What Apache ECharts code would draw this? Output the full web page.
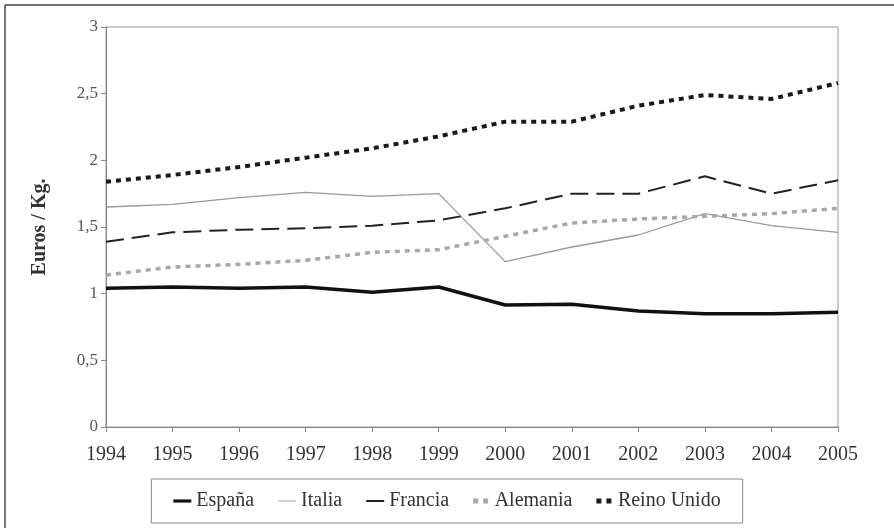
<!DOCTYPE html>
<html>
<head>
<meta charset="utf-8">
<script src="https://cdn.jsdelivr.net/npm/echarts@6/dist/echarts.min.js"></script>
<style>
  html, body { margin: 0; padding: 0; background: #fff; }
  #chart { width: 894px; height: 531px; }
</style>
</head>
<body>
<div id="chart"></div>
<script>
const years = ["1994", "1995", "1996", "1997", "1998", "1999", "2000", "2001", "2002", "2003", "2004", "2005"];
const espana = [1.04, 1.05, 1.04, 1.05, 1.01, 1.05, 0.915, 0.92, 0.87, 0.85, 0.85, 0.86];
const italia = [1.65, 1.67, 1.72, 1.76, 1.73, 1.75, 1.24, 1.35, 1.44, 1.6, 1.51, 1.46];
const francia = [1.39, 1.46, 1.48, 1.49, 1.51, 1.55, 1.64, 1.75, 1.75, 1.88, 1.75, 1.85];
const alemania = [1.14, 1.2, 1.22, 1.25, 1.31, 1.33, 1.43, 1.53, 1.56, 1.58, 1.6, 1.64];
const reinoUnido = [1.84, 1.89, 1.95, 2.02, 2.09, 2.18, 2.29, 2.29, 2.41, 2.49, 2.46, 2.58];

const serif = "'Liberation Serif', 'DejaVu Serif', serif";

const chart = echarts.init(document.getElementById("chart"));

function line(name, data, color, width, type) {
  return {
    name: name,
    type: "line",
    data: data,
    symbol: "none",
    animation: false,
    lineStyle: { color: color, width: width, type: type },
    itemStyle: { color: color }
  };
}

// legend icons: bars for solid/dashed, two squares for the dotted ones
const barThick = "path://M0,0h20v3.5h-20z";
const barThin = "path://M0,0h20v1h-20z";
const barMid = "path://M0,0h20v2.2h-20z";
const twoDots = "path://M0,0h5v5h-5zM10,0h5v5h-5z";

chart.setOption({
  backgroundColor: "#fff",
  grid: {
    left: 106,
    right: 56,
    top: 27,
    bottom: 104,
    show: true,
    borderColor: "#999",
    borderWidth: 1
  },
  legend: {
    bottom: 8,
    left: "center",
    padding: [12, 22],
    borderColor: "#888",
    borderWidth: 1,
    itemWidth: 18,
    itemHeight: 5,
    itemGap: 24,
    itemStyle: { borderWidth: 0 },
    textStyle: { fontFamily: serif, fontSize: 20, color: "#333" },
    data: [
      { name: "España", icon: barThick },
      { name: "Italia", icon: barThin },
      { name: "Francia", icon: barMid },
      { name: "Alemania", icon: twoDots },
      { name: "Reino Unido", icon: twoDots }
    ]
  },
  xAxis: {
    type: "category",
    data: years,
    boundaryGap: false,
    axisLine: { lineStyle: { color: "#888" } },
    axisTick: { alignWithLabel: true, length: 5, lineStyle: { color: "#888" } },
    axisLabel: { fontFamily: serif, fontSize: 20, color: "#333", margin: 18 },
    splitLine: { show: false }
  },
  yAxis: {
    type: "value",
    min: 0,
    max: 3,
    interval: 0.5,
    name: "Euros / Kg.",
    nameLocation: "middle",
    nameGap: 56,
    nameTextStyle: { fontFamily: serif, fontSize: 20, fontWeight: "bold", color: "#333" },
    axisLine: { show: true, lineStyle: { color: "#888" } },
    axisTick: { show: true, length: 5, lineStyle: { color: "#888" } },
    axisLabel: {
      fontFamily: serif,
      fontSize: 17,
      color: "#555",
      margin: 8,
      formatter: v => String(v).replace(".", ",")
    },
    splitLine: { show: false }
  },
  series: [
    line("España", espana, "#111", 3.5, "solid"),
    line("Italia", italia, "#9a9a9a", 1.3, "solid"),
    line("Francia", francia, "#222", 2, [18, 8]),
    line("Alemania", alemania, "#a8a8a8", 3.5, [5, 5]),
    line("Reino Unido", reinoUnido, "#1a1a1a", 4, [5, 5])
  ],
  graphic: [
    { type: "line", shape: { x1: 5, y1: 5, x2: 894, y2: 5 }, style: { stroke: "#444", lineWidth: 1.5 } },
    { type: "line", shape: { x1: 5, y1: 5, x2: 5, y2: 528 }, style: { stroke: "#444", lineWidth: 1.5 } }
  ]
});
</script>
</body>
</html>
